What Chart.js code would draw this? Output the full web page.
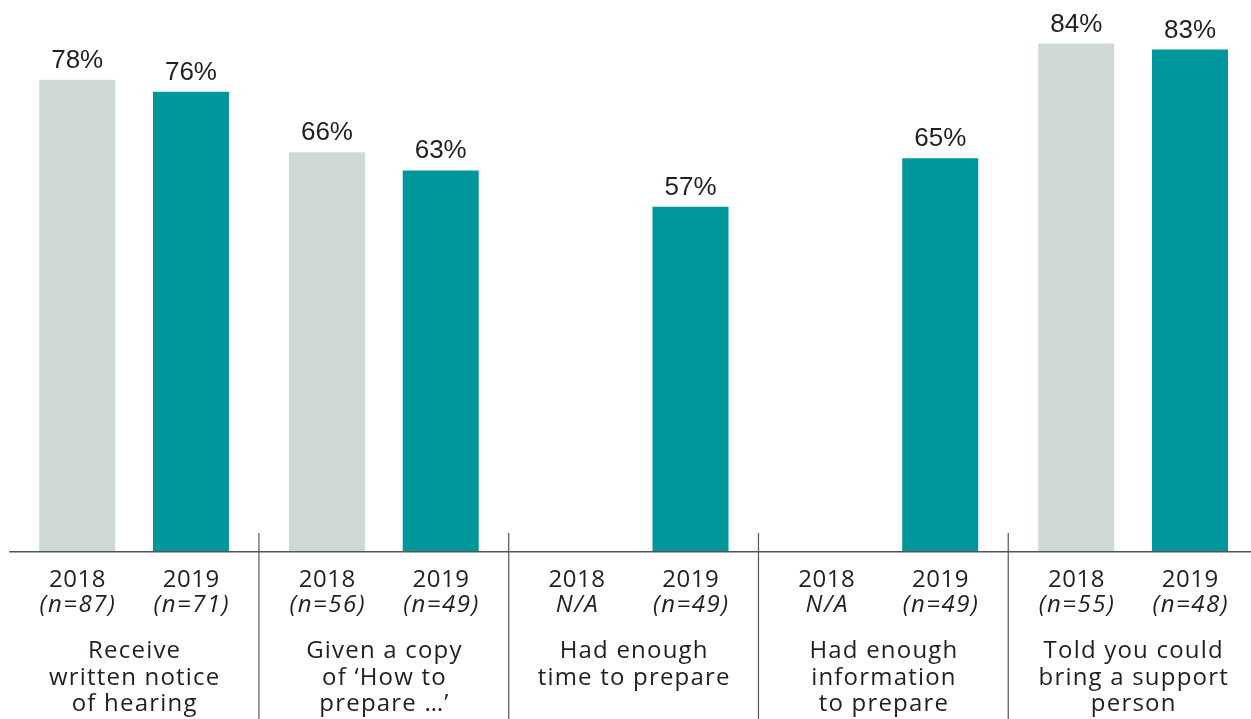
<!DOCTYPE html>
<html>
<head>
<meta charset="utf-8">
<script src="https://cdn.jsdelivr.net/npm/chart.js@4/dist/chart.umd.min.js"></script>
<style>
  html, body { margin: 0; padding: 0; background: #ffffff; overflow: hidden; }
  #wrap { width: 1258px; height: 719px; position: relative; }
</style>
</head>
<body>
<div id="wrap"><canvas id="chart" width="1258" height="719"></canvas></div>
<script>
// Survey items, one group of bars each
const categories = [
  ['Receive', 'written notice', 'of hearing'],
  ['Given a copy', 'of \u2018How to', 'prepare \u2026\u2019'],
  ['Had enough', 'time to prepare'],
  ['Had enough', 'information', 'to prepare'],
  ['Told you could', 'bring a support', 'person']
];

// Percentage answering yes, by survey year (null = not asked that year)
const values2018 = [78, 66, null, null, 84];
const values2019 = [76, 63, 57, 65, 83];

// Year labels and sample sizes shown under each bar
const yearLabels = ['2018', '2019'];
const samples2018 = ['(n=87)', '(n=56)', 'N/A', 'N/A', '(n=55)'];
const samples2019 = ['(n=71)', '(n=49)', '(n=49)', '(n=49)', '(n=48)'];

const TEXT = '#231f20';
const LABEL_FONT = '"Open Sans", "Noto Sans", sans-serif';
const VALUE_FONT = '"Liberation Sans", Arial, sans-serif';

// draw centred text with extra tracking
function spacedText(ctx, str, cx, y, spacing) {
  ctx.letterSpacing = spacing + 'px';
  ctx.fillText(str, cx + spacing / 2, y);
  ctx.letterSpacing = '0px';
}

const annotate = {
  id: 'annotate',
  afterDatasetsDraw(chart) {
    const ctx = chart.ctx;
    const area = chart.chartArea;
    const x = chart.scales.x;
    ctx.save();

    // value labels above each bar
    ctx.fillStyle = TEXT;
    ctx.font = '26px ' + VALUE_FONT;
    ctx.textAlign = 'center';
    ctx.textBaseline = 'alphabetic';
    chart.data.datasets.forEach((ds, di) => {
      const meta = chart.getDatasetMeta(di);
      meta.data.forEach((bar, i) => {
        const v = ds.data[i];
        if (v === null || v === undefined) return;
        ctx.fillText(v + '%', bar.x, bar.y - 12);
      });
    });

    // axis baseline
    ctx.strokeStyle = '#555555';
    ctx.lineWidth = 1.5;
    ctx.beginPath();
    ctx.moveTo(area.left, area.bottom + 0.7);
    ctx.lineTo(area.right, area.bottom + 0.7);
    ctx.stroke();

    // separators between groups
    ctx.lineWidth = 1.2;
    for (let i = 0; i < categories.length - 1; i++) {
      const sx = (x.getPixelForValue(i) + x.getPixelForValue(i + 1)) / 2;
      ctx.beginPath();
      ctx.moveTo(sx, area.bottom - 18);
      ctx.lineTo(sx, chart.height);
      ctx.stroke();
    }

    // year and sample-size labels under each bar
    const samples = [samples2018, samples2019];
    chart.data.datasets.forEach((ds, di) => {
      const meta = chart.getDatasetMeta(di);
      meta.data.forEach((bar, i) => {
        ctx.fillStyle = TEXT;
        ctx.font = '24px ' + LABEL_FONT;
        spacedText(ctx, yearLabels[di], bar.x, area.bottom + 36, 0.5);
        ctx.font = 'italic 24px ' + LABEL_FONT;
        spacedText(ctx, samples[di][i], bar.x, area.bottom + 61, 1.5);
      });
    });

    // group names
    ctx.font = '24px ' + LABEL_FONT;
    categories.forEach((lines, i) => {
      const cx = x.getPixelForValue(i);
      lines.forEach((line, li) => {
        spacedText(ctx, line, cx, area.bottom + 107 + li * 26.5, 1.2);
      });
    });

    ctx.restore();
  }
};

new Chart(document.getElementById('chart'), {
  type: 'bar',
  data: {
    labels: categories.map(c => c.join(' ')),
    datasets: [
      { label: yearLabels[0], data: values2018, backgroundColor: '#cfd9d4' },
      { label: yearLabels[1], data: values2019, backgroundColor: '#00979c' }
    ]
  },
  options: {
    responsive: false,
    animation: false,
    devicePixelRatio: 1,
    layout: { padding: { left: 9.2, right: 0, top: 0, bottom: 168 } },
    datasets: { bar: { categoryPercentage: 0.911, barPercentage: 0.668 } },
    scales: {
      x: { display: false },
      y: { display: false, min: 0, max: 91.2 }
    },
    plugins: {
      legend: { display: false },
      tooltip: { enabled: false }
    }
  },
  plugins: [annotate]
});
</script>
</body>
</html>
